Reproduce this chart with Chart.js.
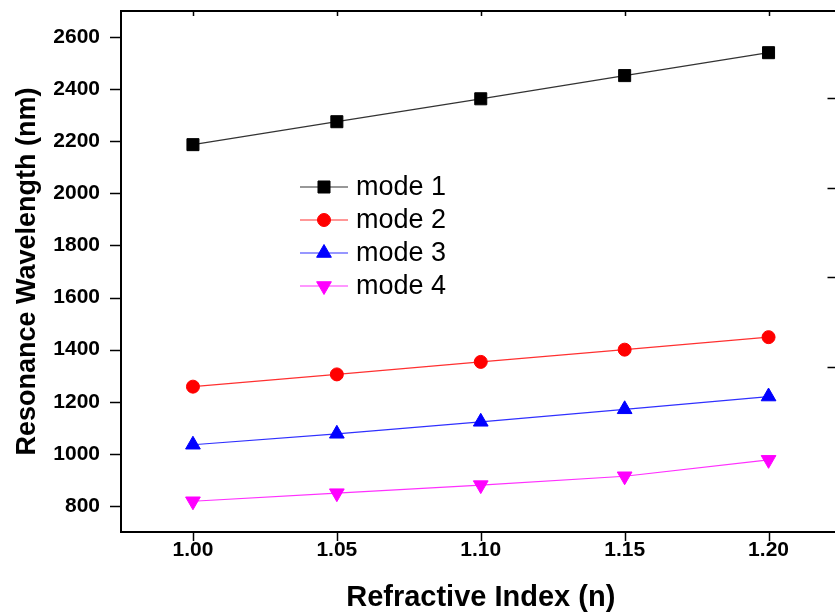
<!DOCTYPE html>
<html>
<head>
<meta charset="utf-8">
<script src="https://cdn.jsdelivr.net/npm/chart.js@4/dist/chart.umd.min.js"></script>
<style>
html,body{margin:0;padding:0;background:#fff;overflow:hidden;}
#wrap{width:850px;height:612px;}
</style>
</head>
<body>
<div id="wrap"><canvas id="c" width="850" height="612"></canvas></div>
<script>
const refractiveIndex = [1.00, 1.05, 1.10, 1.15, 1.20];
const mode1 = [2187, 2275, 2363, 2452, 2540];
const mode2 = [1258, 1305, 1353, 1400, 1448];
const mode3 = [1035, 1077, 1123, 1171, 1220];
const mode4 = [818, 849, 880, 914, 977];
const seriesNames = ['mode 1', 'mode 2', 'mode 3', 'mode 4'];
const rightAxisTickValues = [2365, 2020, 1680, 1335];

const FONT = "'Liberation Sans', Arial, sans-serif";

function pts(vals){ return refractiveIndex.map((x,i)=>({x:x, y:vals[i]})); }

const styles = [
  {color:'#000000', line:'#333333', style:'rect', r:8.5, rot:0},
  {color:'#ff0000', line:'#ff3030', style:'circle', r:6.5, rot:0},
  {color:'#0000ff', line:'#3030ff', style:'triangle', r:8.5, rot:0},
  {color:'#ff00ff', line:'#ff30ff', style:'triangle', r:8.5, rot:180}
];
const allVals = [mode1, mode2, mode3, mode4];

const datasets = allVals.map((v,i)=>({
  label: seriesNames[i],
  data: pts(v),
  borderColor: styles[i].line,
  borderWidth: 1.2,
  backgroundColor: styles[i].color,
  pointBackgroundColor: styles[i].color,
  pointBorderColor: styles[i].color,
  pointBorderWidth: 1,
  pointStyle: styles[i].style,
  pointRadius: styles[i].r,
  pointRotation: styles[i].rot,
  tension: 0,
  fill: false
}));

const framePlugin = {
  id: 'frame',
  afterDraw(chart){
    const {ctx, chartArea:a, scales:{x, y}} = chart;
    ctx.save();
    ctx.strokeStyle = '#000';
    ctx.lineWidth = 2;
    ctx.beginPath();
    ctx.moveTo(a.left, a.top);
    ctx.lineTo(a.right, a.top);
    ctx.lineTo(a.right, a.bottom);
    ctx.stroke();
    ctx.lineWidth = 1.5;
    x.ticks.forEach(t=>{
      const px = Math.round(x.getPixelForValue(t.value)) + 0.5;
      const major = t.label !== null && t.label !== undefined && t.label !== '';
      ctx.beginPath();
      ctx.moveTo(px, a.bottom);
      ctx.lineTo(px, a.bottom + (major ? 9 : 6));
      ctx.stroke();
      ctx.beginPath();
      ctx.moveTo(px, a.top);
      ctx.lineTo(px, a.top + 5);
      ctx.stroke();
    });
    y.ticks.forEach(t=>{
      const py = Math.round(y.getPixelForValue(t.value)) + 0.5;
      const major = t.label !== null && t.label !== undefined && t.label !== '';
      ctx.beginPath();
      ctx.moveTo(a.left, py);
      ctx.lineTo(a.left - (major ? 11 : 6), py);
      ctx.stroke();
    });
    rightAxisTickValues.forEach(v=>{
      const py = Math.round(y.getPixelForValue(v)) + 0.5;
      ctx.beginPath();
      ctx.moveTo(a.right, py);
      ctx.lineTo(a.right - 13, py);
      ctx.stroke();
    });
    ctx.restore();
  }
};

const legendPlugin = {
  id: 'insideLegend',
  afterDatasetsDraw(chart){
    const {ctx, chartArea:a} = chart;
    ctx.save();
    chart.data.datasets.forEach((ds,i)=>{
      const x0 = a.left + 179;
      const y0 = a.top + 176 + i*33;
      ctx.strokeStyle = ds.borderColor;
      ctx.lineWidth = 1.2;
      ctx.beginPath();
      ctx.moveTo(x0, y0);
      ctx.lineTo(x0 + 48, y0);
      ctx.stroke();
      ctx.fillStyle = ds.pointBackgroundColor;
      ctx.strokeStyle = ds.pointBorderColor;
      ctx.lineWidth = 1;
      Chart.helpers.drawPoint(ctx, {pointStyle: ds.pointStyle, radius: ds.pointRadius, rotation: ds.pointRotation, borderWidth: 1}, x0 + 24, y0);
      ctx.fillStyle = '#000';
      ctx.font = '27px ' + FONT;
      ctx.textBaseline = 'middle';
      ctx.textAlign = 'left';
      ctx.fillText(ds.label, x0 + 56, y0 + 1);
    });
    ctx.restore();
  }
};

new Chart(document.getElementById('c'), {
  type: 'line',
  data: { datasets: datasets },
  plugins: [framePlugin, legendPlugin],
  options: {
    responsive: false,
    animation: false,
    devicePixelRatio: 1,
    layout: { padding: { left: 0, top: 11, right: 7, bottom: 0 } },
    plugins: { legend: { display: false }, tooltip: { enabled: false } },
    scales: {
      x: {
        type: 'linear',
        min: 0.975,
        max: 1.225,
        afterFit(s){ s.height = 80; s.paddingLeft = 0; s.paddingRight = 0; },
        grid: { display: false, drawTicks: false },
        border: { display: true, color: '#000', width: 2 },
        ticks: {
          stepSize: 0.025,
          autoSkip: false,
          maxRotation: 0,
          padding: 6,
          color: '#000',
          font: { family: FONT, size: 21, weight: 'bold' },
          callback(v){ const k = Math.round(v*1000); return (k % 50 === 0) ? (k/1000).toFixed(2) : null; }
        },
        title: {
          display: true,
          text: 'Refractive Index (n)',
          color: '#000',
          padding: { top: 0, bottom: 0 },
          font: { family: FONT, size: 29, weight: 'bold', lineHeight: 1 }
        }
      },
      y: {
        type: 'linear',
        min: 700,
        max: 2700,
        afterFit(s){ s.width = 121; s.paddingTop = 0; s.paddingBottom = 0; },
        grid: { display: false, drawTicks: false },
        border: { display: true, color: '#000', width: 2 },
        ticks: {
          stepSize: 100,
          autoSkip: false,
          padding: 21,
          color: '#000',
          font: { family: FONT, size: 21, weight: 'bold' },
          callback(v){ return (Math.round(v) % 200 === 0) ? String(Math.round(v)) : null; }
        },
        title: {
          display: true,
          text: 'Resonance Wavelength (nm)',
          color: '#000',
          padding: { top: 14, bottom: 0 },
          font: { family: FONT, size: 27, weight: 'bold', lineHeight: 1 }
        }
      }
    }
  }
});
</script>
</body>
</html>
